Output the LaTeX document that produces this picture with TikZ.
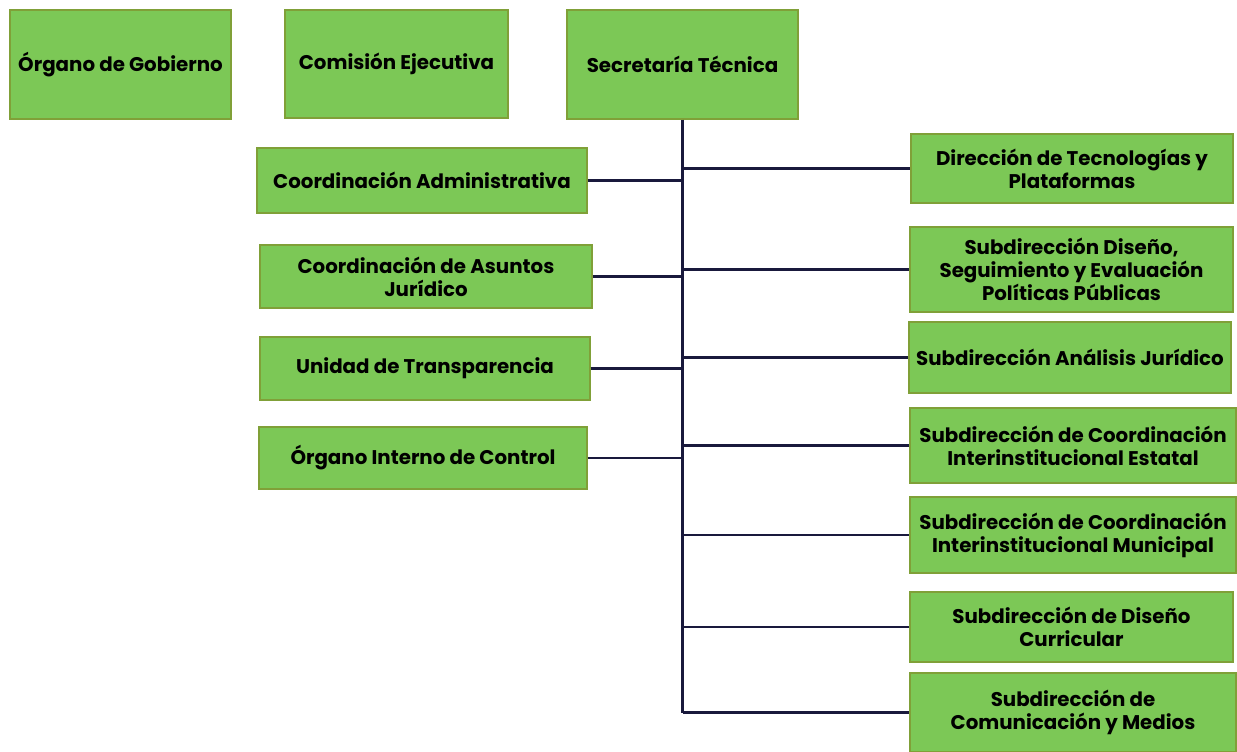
\documentclass[tikz,border=0pt]{standalone}
\usepackage{fontspec}
\setmainfont{Poppins}
\definecolor{boxgreen}{RGB}{124,200,86}
\definecolor{boxedge}{RGB}{128,160,56}
\definecolor{linecol}{RGB}{25,25,60}

\begin{document}
\begin{tikzpicture}[x=1pt,y=-1pt,
  box/.style={rectangle,draw=boxedge,fill=boxgreen,line width=1.4pt,align=center,inner sep=0pt,
    font=\fontsize{19.8}{23}\selectfont\bfseries},
  link/.style={draw=linecol,line width=2.4pt}]
\useasboundingbox (0,0) rectangle (1237,752);

\node[box,minimum width=221pt,minimum height=109pt] at (120.5,64.5) (og) {Órgano de Gobierno};
\node[box,minimum width=223pt,minimum height=108pt] at (396.5,64) (ce) {Comisión Ejecutiva};
\node[box,minimum width=231pt,minimum height=109pt] at (682.5,64.5) (st) {Secretaría Técnica};

\node[box,minimum width=330pt,minimum height=65pt] at (422,180.5) (ca) {Coordinación Administrativa};
\node[box,minimum width=332pt,minimum height=63pt] at (426,276.5) (cj) {Coordinación de Asuntos\\Jurídico};
\node[box,minimum width=330pt,minimum height=63pt] at (425,368.5) (ut) {Unidad de Transparencia};
\node[box,minimum width=328pt,minimum height=62pt] at (423,458) (oic) {Órgano Interno de Control};

\node[box,minimum width=322pt,minimum height=69pt] at (1072,168.5) (d1) {Dirección de Tecnologías y\\Plataformas};
\node[box,minimum width=323pt,minimum height=85pt] at (1071.5,269.5) (d2) {Subdirección Diseño,\\Seguimiento y Evaluación\\Políticas Públicas};
\node[box,minimum width=322pt,minimum height=71pt] at (1070,357.5) (d3) {Subdirección Análisis Jurídico};
\node[box,minimum width=326pt,minimum height=75pt] at (1073,445.5) (d4) {Subdirección de Coordinación\\Interinstitucional Estatal};
\node[box,minimum width=326pt,minimum height=76pt] at (1073,535) (d5) {Subdirección de Coordinación\\Interinstitucional Municipal};
\node[box,minimum width=323pt,minimum height=70pt] at (1071.5,627) (d6) {Subdirección de Diseño\\Curricular};
\node[box,minimum width=326pt,minimum height=79pt] at (1073,712.5) (d7) {Subdirección de\\Comunicación y Medios};

\draw[link] (st.south) -- (st.south |- d7.west);
\draw[link] (ca.east) -- (ca.east -| st.south);
\draw[link] (cj.east) -- (cj.east -| st.south);
\draw[link] (ut.east) -- (ut.east -| st.south);
\draw[link] (oic.east) -- (oic.east -| st.south);
\draw[link] (d1.west -| st.south) -- (d1.west);
\draw[link] (d2.west -| st.south) -- (d2.west);
\draw[link] (d3.west -| st.south) -- (d3.west);
\draw[link] (d4.west -| st.south) -- (d4.west);
\draw[link] (d5.west -| st.south) -- (d5.west);
\draw[link] (d6.west -| st.south) -- (d6.west);
\draw[link] (d7.west -| st.south) -- (d7.west);
\end{tikzpicture}
\end{document}
